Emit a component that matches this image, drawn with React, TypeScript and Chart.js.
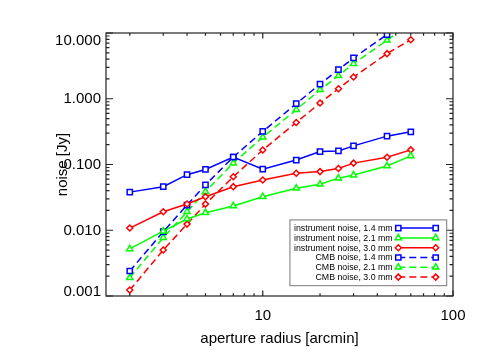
import React, { useEffect, useRef } from 'react';
import { Chart, registerables } from 'chart.js';

Chart.register(...registerables);

// ---- data ----
const radii = [2, 3, 4, 5, 7, 10, 15, 20, 25, 30, 45, 60];
const instrument14 = [0.038, 0.046, 0.070, 0.084, 0.130, 0.085, 0.117, 0.157, 0.161, 0.192, 0.27, 0.314];
const instrument21 = [0.0052, 0.0097, 0.0148, 0.0185, 0.0234, 0.0324, 0.0435, 0.050, 0.062, 0.069, 0.095, 0.135];
const instrument30 = [0.0108, 0.0191, 0.0251, 0.0324, 0.046, 0.058, 0.0736, 0.078, 0.087, 0.105, 0.129, 0.167];
const cmb14 = [0.0024, 0.0095, 0.0242, 0.049, 0.130, 0.318, 0.84, 1.67, 2.77, 4.17, 9.45, 17.5];
const cmb21 = [0.0019, 0.0077, 0.0191, 0.0386, 0.105, 0.26, 0.68, 1.37, 2.24, 3.42, 7.74, 14.3];
const cmb30 = [0.00123, 0.0050, 0.0124, 0.025, 0.065, 0.166, 0.435, 0.86, 1.42, 2.14, 4.85, 7.9];

const seriesLabels = [
  'instrument noise, 1.4 mm',
  'instrument noise, 2.1 mm',
  'instrument noise, 3.0 mm',
  'CMB noise, 1.4 mm',
  'CMB noise, 2.1 mm',
  'CMB noise, 3.0 mm',
];

const yTickValues = [0.001, 0.01, 0.1, 1, 10];
const yTickLabels = ['0.001', '0.010', '0.100', '1.000', '10.000'];
const xTickValues = [10, 100];
const xTickLabels = ['10', '100'];
const xDecades = [1, 10];
const yDecades = [0.001, 0.01, 0.1, 1];

const X_MIN = 1.5;
const X_MAX = 100;
const Y_MIN = 0.001;
const Y_MAX = 10;

const FONT = "'Liberation Sans', Helvetica, Arial, sans-serif";
const BLUE = '#0000ff';
const GREEN = '#00ff00';
const RED = '#ff0000';
const DASH = [7, 4];

function drawMarker(ctx: CanvasRenderingContext2D, style: string, x: number, y: number, r: number) {
  ctx.beginPath();
  if (style === 'rect') {
    const s = Math.SQRT1_2 * r;
    ctx.rect(x - s, y - s, 2 * s, 2 * s);
  } else if (style === 'triangle') {
    let a = 0;
    ctx.moveTo(x + Math.sin(a) * r, y - Math.cos(a) * r);
    a += (2 * Math.PI) / 3;
    ctx.lineTo(x + Math.sin(a) * r, y - Math.cos(a) * r);
    a += (2 * Math.PI) / 3;
    ctx.lineTo(x + Math.sin(a) * r, y - Math.cos(a) * r);
    ctx.closePath();
  } else {
    ctx.moveTo(x - r, y);
    ctx.lineTo(x, y - r);
    ctx.lineTo(x + r, y);
    ctx.lineTo(x, y + r);
    ctx.closePath();
  }
  ctx.fillStyle = '#ffffff';
  ctx.fill();
  ctx.stroke();
}

const idlFramePlugin = {
  id: 'idlFrame',
  afterDatasetsDraw(chart: any) {
    const { ctx, chartArea } = chart;
    const { left, right, top, bottom } = chartArea;
    const xs = chart.scales.x;
    const ys = chart.scales.y;
    ctx.save();
    ctx.strokeStyle = '#222222';
    ctx.lineWidth = 1.2;
    ctx.strokeRect(left, top, right - left, bottom - top);
    ctx.beginPath();
    // y ticks (left & right, inward)
    for (const d of yDecades) {
      for (let m = 1; m <= 10; m++) {
        const v = d * m;
        if (v < Y_MIN - 1e-12 || v > Y_MAX + 1e-9) continue;
        const len = m === 1 || m === 10 ? 7 : 3.5;
        const py = ys.getPixelForValue(v);
        ctx.moveTo(left, py);
        ctx.lineTo(left + len, py);
        ctx.moveTo(right, py);
        ctx.lineTo(right - len, py);
      }
    }
    // x ticks (bottom & top, inward)
    for (const d of xDecades) {
      for (let m = 1; m <= 10; m++) {
        const v = d * m;
        if (v < X_MIN || v > X_MAX + 1e-9) continue;
        const len = m === 1 || m === 10 ? 5.5 : 2.8;
        const px = xs.getPixelForValue(v);
        ctx.moveTo(px, bottom);
        ctx.lineTo(px, bottom - len);
        ctx.moveTo(px, top);
        ctx.lineTo(px, top + len);
      }
    }
    ctx.stroke();

    // y tick labels (kept inside the axis span like the original)
    ctx.fillStyle = '#000000';
    ctx.font = `15px ${FONT}`;
    ctx.textAlign = 'right';
    ctx.textBaseline = 'middle';
    yTickValues.forEach((v, i) => {
      let py = ys.getPixelForValue(v);
      py = Math.max(top + 7.4, Math.min(bottom - 5, py));
      ctx.fillText(yTickLabels[i], left - 5, py + 0.5);
    });
    ctx.restore();
  },
  afterDraw(chart: any) {
    const { ctx, chartArea } = chart;
    const datasets = chart.data.datasets;
    ctx.save();
    ctx.font = `8.8px ${FONT}`;
    const rowH = 9.8;
    const boxRight = chartArea.right - 6.3;
    const boxBottom = chartArea.bottom - 10.3;
    const textRight = boxRight - 54;
    let maxW = 0;
    datasets.forEach((ds: any) => {
      maxW = Math.max(maxW, ctx.measureText(ds.label).width);
    });
    const boxLeft = textRight - maxW - 4;
    const boxHeight = rowH * datasets.length + 7;
    const boxTop = boxBottom - boxHeight;
    ctx.fillStyle = '#ffffff';
    ctx.fillRect(boxLeft, boxTop, boxRight - boxLeft, boxHeight);
    ctx.strokeStyle = '#777777';
    ctx.lineWidth = 1;
    ctx.strokeRect(boxLeft, boxTop, boxRight - boxLeft, boxHeight);

    const m1 = boxRight - 48.4;
    const m2 = boxRight - 11;
    datasets.forEach((ds: any, i: number) => {
      const y = boxTop + 8.2 + i * rowH;
      ctx.fillStyle = '#000000';
      ctx.textAlign = 'right';
      ctx.textBaseline = 'middle';
      ctx.fillText(ds.label, textRight, y + 0.5);
      ctx.strokeStyle = ds.borderColor;
      ctx.lineWidth = ds.borderWidth;
      ctx.setLineDash(ds.borderDash || []);
      ctx.beginPath();
      ctx.moveTo(m1, y);
      ctx.lineTo(m2, y);
      ctx.stroke();
      ctx.setLineDash([]);
      ctx.lineWidth = ds.pointBorderWidth;
      drawMarker(ctx, ds.pointStyle, m1, y, ds.pointRadius);
      drawMarker(ctx, ds.pointStyle, m2, y, ds.pointRadius);
    });
    ctx.restore();
  },
};

function makeDataset(label: string, values: number[], color: string, style: string, r: number, dashed: boolean) {
  return {
    label,
    data: radii.map((x, i) => ({ x, y: values[i] })),
    borderColor: color,
    backgroundColor: color,
    borderWidth: 1.5,
    borderDash: dashed ? DASH : [],
    pointStyle: style,
    pointRadius: r,
    pointBorderWidth: 1.5,
    pointBackgroundColor: '#ffffff',
    pointBorderColor: color,
    tension: 0,
    fill: false,
  };
}

export default function App() {
  const canvasRef = useRef<HTMLCanvasElement | null>(null);

  useEffect(() => {
    const canvas = canvasRef.current;
    if (!canvas) return;
    const chart = new Chart(canvas, {
      type: 'line',
      data: {
        datasets: [
          makeDataset(seriesLabels[0], instrument14, BLUE, 'rect', 3.7, false),
          makeDataset(seriesLabels[1], instrument21, GREEN, 'triangle', 3.6, false),
          makeDataset(seriesLabels[2], instrument30, RED, 'rectRot', 3.0, false),
          makeDataset(seriesLabels[3], cmb14, BLUE, 'rect', 3.7, true),
          makeDataset(seriesLabels[4], cmb21, GREEN, 'triangle', 3.6, true),
          makeDataset(seriesLabels[5], cmb30, RED, 'rectRot', 3.0, true),
        ] as any,
      },
      options: {
        animation: false,
        responsive: false,
        maintainAspectRatio: false,
        layout: { padding: { left: 0, right: 32, top: 33, bottom: 0 } },
        plugins: {
          legend: { display: false },
          tooltip: { enabled: false },
          title: { display: false },
        },
        scales: {
          x: {
            type: 'logarithmic',
            min: X_MIN,
            max: X_MAX,
            grid: { display: false, drawTicks: false },
            border: { display: false },
            afterBuildTicks: (scale: any) => {
              scale.ticks = xTickValues.map((v) => ({ value: v }));
            },
            afterFit: (scale: any) => {
              scale.height = 67;
            },
            ticks: {
              autoSkip: false,
              maxRotation: 0,
              padding: 11,
              color: '#000000',
              font: { family: FONT, size: 15 },
              callback: (value: any) => {
                const idx = xTickValues.indexOf(Number(value));
                return idx >= 0 ? xTickLabels[idx] : '';
              },
            },
            title: {
              display: true,
              text: 'aperture radius [arcmin]',
              color: '#000000',
              font: { family: FONT, size: 15 },
              padding: { top: 0, bottom: 15 },
            },
          },
          y: {
            type: 'logarithmic',
            min: Y_MIN,
            max: Y_MAX,
            grid: { display: false, drawTicks: false },
            border: { display: false },
            afterBuildTicks: (scale: any) => {
              scale.ticks = yTickValues.map((v) => ({ value: v }));
            },
            afterFit: (scale: any) => {
              scale.width = 106;
            },
            ticks: { display: false },
            title: {
              display: true,
              text: 'noise [Jy]',
              color: '#000000',
              font: { family: FONT, size: 15 },
              padding: { top: 54, bottom: 0 },
            },
          },
        },
      } as any,
      plugins: [idlFramePlugin],
    });
    return () => chart.destroy();
  }, []);

  return (
    <div style={{ position: 'absolute', left: 0, top: 0, width: 485, height: 363, background: '#ffffff' }}>
      <canvas ref={canvasRef} width={485} height={363} style={{ display: 'block', width: 485, height: 363 }} />
    </div>
  );
}
